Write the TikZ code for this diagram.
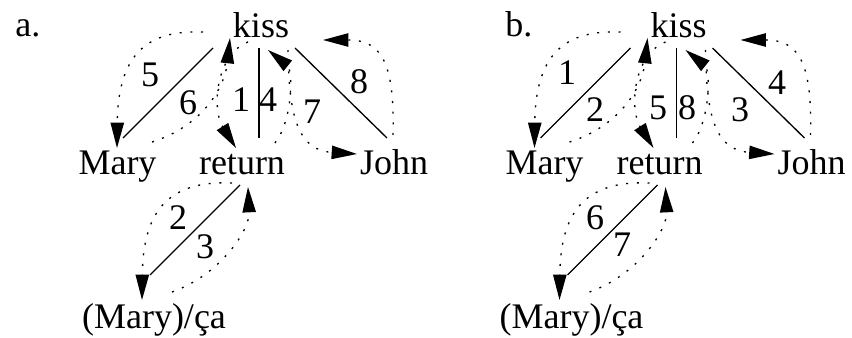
\documentclass[tikz,border=0pt]{standalone}
\usepackage{fontspec}
\setmainfont{Liberation Serif}
\usetikzlibrary{arrows.meta,calc}
\tikzset{
  word/.style={inner sep=0pt, anchor=base, font=\fontsize{27}{32}\selectfont},
  num/.style={inner sep=0pt, font=\fontsize{27}{32}\selectfont},
  branch/.style={line width=1pt},
  walk/.style={line width=1pt, dash pattern=on 1.5pt off 6.5pt, -{Triangle[length=19pt,width=10pt]}},
}
\begin{document}
\begin{tikzpicture}[x=0.75pt,y=-0.75pt]
    \useasboundingbox (0,0) rectangle (852,338);

    % Tree and walk, once for each panel
    \foreach \p/\dx/\mx/\tx in {a/0/0/15, b/417.5/9.5/505} {
        \node[word, anchor=base west] (tag\p) at (\tx,37) {\p.};
        \node[word] (kiss\p) at (261+\dx,38) {kiss};
        \node[word] (mary\p) at (117.5+\dx+\mx,175) {Mary};
        \node[word] (ret\p) at (242+\dx,175) {return};
        \node[word] (john\p) at (394+\dx,175) {John};
        \node[word] (ca\p) at (154+\dx,328) {(Mary)/ça};

        % Branches
        \draw[branch] ($(kiss\p.base)+(-48,10)$) -- ($(mary\p.base)+(5.5-\mx,-37)$);
        \draw[branch] ($(kiss\p.base)+(-2,10)$) -- ($(ret\p.base)+(17,-37)$);
        \draw[branch] ($(kiss\p.base)+(34,10)$) -- ($(john\p.base)+(-7,-37)$);
        \draw[branch] ($(ret\p.base)+(-2,10)$) -- ($(ca\p.base)+(-4,-53)$);

        % Walk round the tree
        \draw[walk] ($(kiss\p.base)+(-58,-6)$) .. controls +(-53,-2) and +(1,-97) .. ($(mary\p.base)+(-0.5-\mx,-27)$);
        \draw[walk] ($(mary\p.base)+(34.5-\mx,-33)$) .. controls +(53,-17) and +(-5,47) .. ($(kiss\p.base)+(-31,0)$);
        \draw[walk] ($(kiss\p.base)+(-13,4)$) .. controls +(-33,13) and +(-24,-38) .. ($(ret\p.base)+(-6,-27)$);
        \draw[walk] ($(ret\p.base)+(33,-32)$) .. controls +(18,-23) and +(25,20) .. ($(kiss\p.base)+(7,12)$);
        \draw[walk] ($(kiss\p.base)+(27,12)$) .. controls +(1,60) and +(-62,-4) .. ($(john\p.base)+(-37,-21)$);
        \draw[walk] ($(john\p.base)+(-1,-40)$) .. controls +(2,-75) and +(57,0) .. ($(kiss\p.base)+(62,2)$);
        \draw[walk] ($(ret\p.base)+(-10,8)$) .. controls +(-67,-3) and +(1,-85) .. ($(ca\p.base)+(-12,-28)$);
        \draw[walk] ($(ca\p.base)+(18,-36)$) .. controls +(48,-17) and +(2,43) .. ($(ret\p.base)+(6,12)$);
    }

    % Step numbers
    \foreach \n/\x/\y in {5/150/75, 6/188/103, 1/241/100, 4/268/100, 7/312/112, 8/359/82, 2/178/218, 3/205/247,
                          1/567/73, 2/595/110, 5/658/108, 8/687/108, 3/740/110, 4/777/83, 6/595/218, 7/622/245} {
        \node[num] (n\n-\x) at (\x,\y) {\n};
    }
\end{tikzpicture}
\end{document}
